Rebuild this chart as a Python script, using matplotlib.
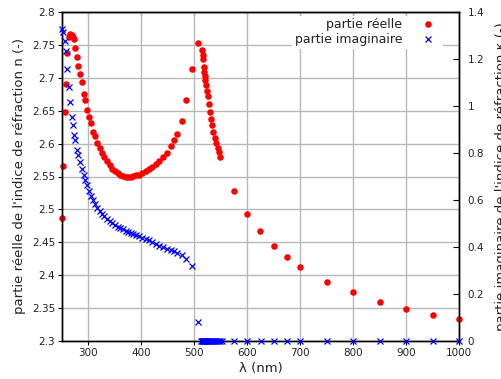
import matplotlib
matplotlib.use("Agg")
import matplotlib.pyplot as plt
from matplotlib.ticker import FuncFormatter

# Wavelengths (nm)
wavelength = [250, 252, 255, 257, 260, 263, 265, 268, 270, 273, 275, 278, 281, 284, 287,
              291, 294, 297, 301, 305, 309, 313, 317, 321, 325, 330, 335, 340, 345, 350,
              355, 360, 365, 370, 375, 380, 385, 390, 396, 402, 408, 414, 420, 427, 434,
              441, 448, 455, 461, 468, 476, 485, 495, 506,
              512, 515, 516, 517, 518, 519, 520, 521, 522, 524, 525, 527, 529, 531, 534,
              536, 539, 541, 544, 546, 549, 553,
              575, 600, 625, 650, 675, 700, 750, 800, 850, 900, 950, 1000]

# Real part n
n_real = [2.487, 2.566, 2.648, 2.691, 2.737, 2.762, 2.766, 2.765, 2.762, 2.759, 2.745, 2.732,
          2.718, 2.706, 2.694, 2.676, 2.666, 2.651, 2.641, 2.631, 2.618, 2.611, 2.601, 2.593,
          2.586, 2.579, 2.573, 2.567, 2.562, 2.558, 2.555, 2.552, 2.551, 2.550, 2.550, 2.550,
          2.551, 2.552, 2.553, 2.556, 2.559, 2.561, 2.565, 2.569, 2.573, 2.579, 2.586, 2.596,
          2.605, 2.615, 2.634, 2.666, 2.714, 2.753,
          None, 2.743, 2.735, 2.728, 2.717, 2.709, 2.702, 2.697, 2.689, 2.680, 2.673, 2.660,
          2.648, 2.637, 2.628, 2.617, 2.609, 2.601, 2.594, 2.587, 2.580, None,
          2.528, 2.493, 2.467, 2.445, 2.427, 2.413, 2.389, 2.374, 2.360, 2.349, 2.340, 2.333]

# Imaginary part k
k_imag = [1.326, 1.316, 1.278, 1.234, 1.156, 1.080, 1.015, 0.952, 0.918, 0.875, 0.855, 0.814,
          0.790, 0.760, 0.733, 0.705, 0.685, 0.665, 0.638, 0.618, 0.601, 0.584, 0.567, 0.552,
          0.541, 0.530, 0.519, 0.510, 0.502, 0.494, 0.487, 0.481, 0.476, 0.470, 0.465, 0.460,
          0.455, 0.451, 0.446, 0.440, 0.435, 0.429, 0.422, 0.414, 0.406, 0.399, 0.392, 0.386,
          0.381, 0.375, 0.365, 0.349, 0.319, 0.082,
          0.0, 0.0, 0.0, 0.0, 0.0, 0.0, 0.0, 0.0, 0.0, 0.0, 0.0, 0.0,
          0.0, 0.0, 0.0, 0.0, 0.0, 0.0, 0.0, 0.0, 0.0, 0.0,
          0.0, 0.0, 0.0, 0.0, 0.0, 0.0, 0.0, 0.0, 0.0, 0.0, 0.0, 0.0]

x_ticks = [300, 400, 500, 600, 700, 800, 900, 1000]
n_ticks = [2.3, 2.35, 2.4, 2.45, 2.5, 2.55, 2.6, 2.65, 2.7, 2.75, 2.8]
k_ticks = [0, 0.2, 0.4, 0.6, 0.8, 1.0, 1.2, 1.4]

plt.rcParams['font.family'] = ['DejaVu Sans']

fig = plt.figure(figsize=(5.02, 3.79), dpi=100)
ax = fig.add_axes([62/502, 1 - 341/379, (459 - 62)/502, (341 - 12)/379])
ax2 = ax.twinx()

wl_r = [w for w, v in zip(wavelength, n_real) if v is not None]
n_r = [v for v in n_real if v is not None]

red_color = '#ff0000'
blue_color = '#0000ff'

h1, = ax.plot(wl_r, n_r, linestyle='none', marker='o', markersize=4.7,
              color=red_color, markeredgewidth=0, clip_on=False, zorder=3)
h2, = ax2.plot(wavelength, k_imag, linestyle='none', marker='x', markersize=4.5,
               color=blue_color, markeredgewidth=0.9, clip_on=False, zorder=3)

ax.set_xlim(250, 1000)
ax.set_ylim(2.3, 2.8)
ax2.set_ylim(0, 1.4)

ax.set_xticks(x_ticks)
ax.set_yticks(n_ticks)
ax2.set_yticks(k_ticks)
fmt = FuncFormatter(lambda v, p: ('%g' % round(v, 4)))
ax.yaxis.set_major_formatter(fmt)
ax2.yaxis.set_major_formatter(fmt)

ax.grid(True, color='#b8b8b8', linewidth=1.0)
ax.set_axisbelow(True)

ax.tick_params(axis='both', labelsize=7.5, direction='out', length=3, width=0.8,
               colors='black', labelcolor='#222222', pad=2)
ax2.tick_params(axis='y', labelsize=7.5, direction='in', length=4, width=0.8,
                labelcolor='#222222', pad=6)

top = ax.secondary_xaxis('top')
top.set_xticks(x_ticks)
top.tick_params(direction='in', length=3, width=0.8, labeltop=False)

for s in ax.spines.values():
    s.set_linewidth(1.0)
for s in ax2.spines.values():
    s.set_linewidth(1.0)

ax.set_xlabel('λ (nm)', fontsize=9.5, labelpad=3, color='#222222')
ax.set_ylabel("partie réelle de l'indice de réfraction n (-)", fontsize=9.5,
              labelpad=4, color='#222222')
ax2.set_ylabel("partie imaginaire de l'indice de réfraction κ (-)", fontsize=9.5,
               labelpad=8, color='#222222')

leg = ax2.legend([h1, h2], ['partie réelle', 'partie imaginaire'], loc='upper right',
                 bbox_to_anchor=(0.97, 1.0), markerfirst=False, fontsize=9,
                 frameon=True, fancybox=False, edgecolor='none', facecolor='white',
                 framealpha=1.0, handletextpad=1.1, labelspacing=0.15, borderpad=0.2,
                 handlelength=2.0, borderaxespad=0.3, numpoints=1)
for t in leg.get_texts():
    t.set_color('#222222')

fig.savefig('out.png', dpi=100)
